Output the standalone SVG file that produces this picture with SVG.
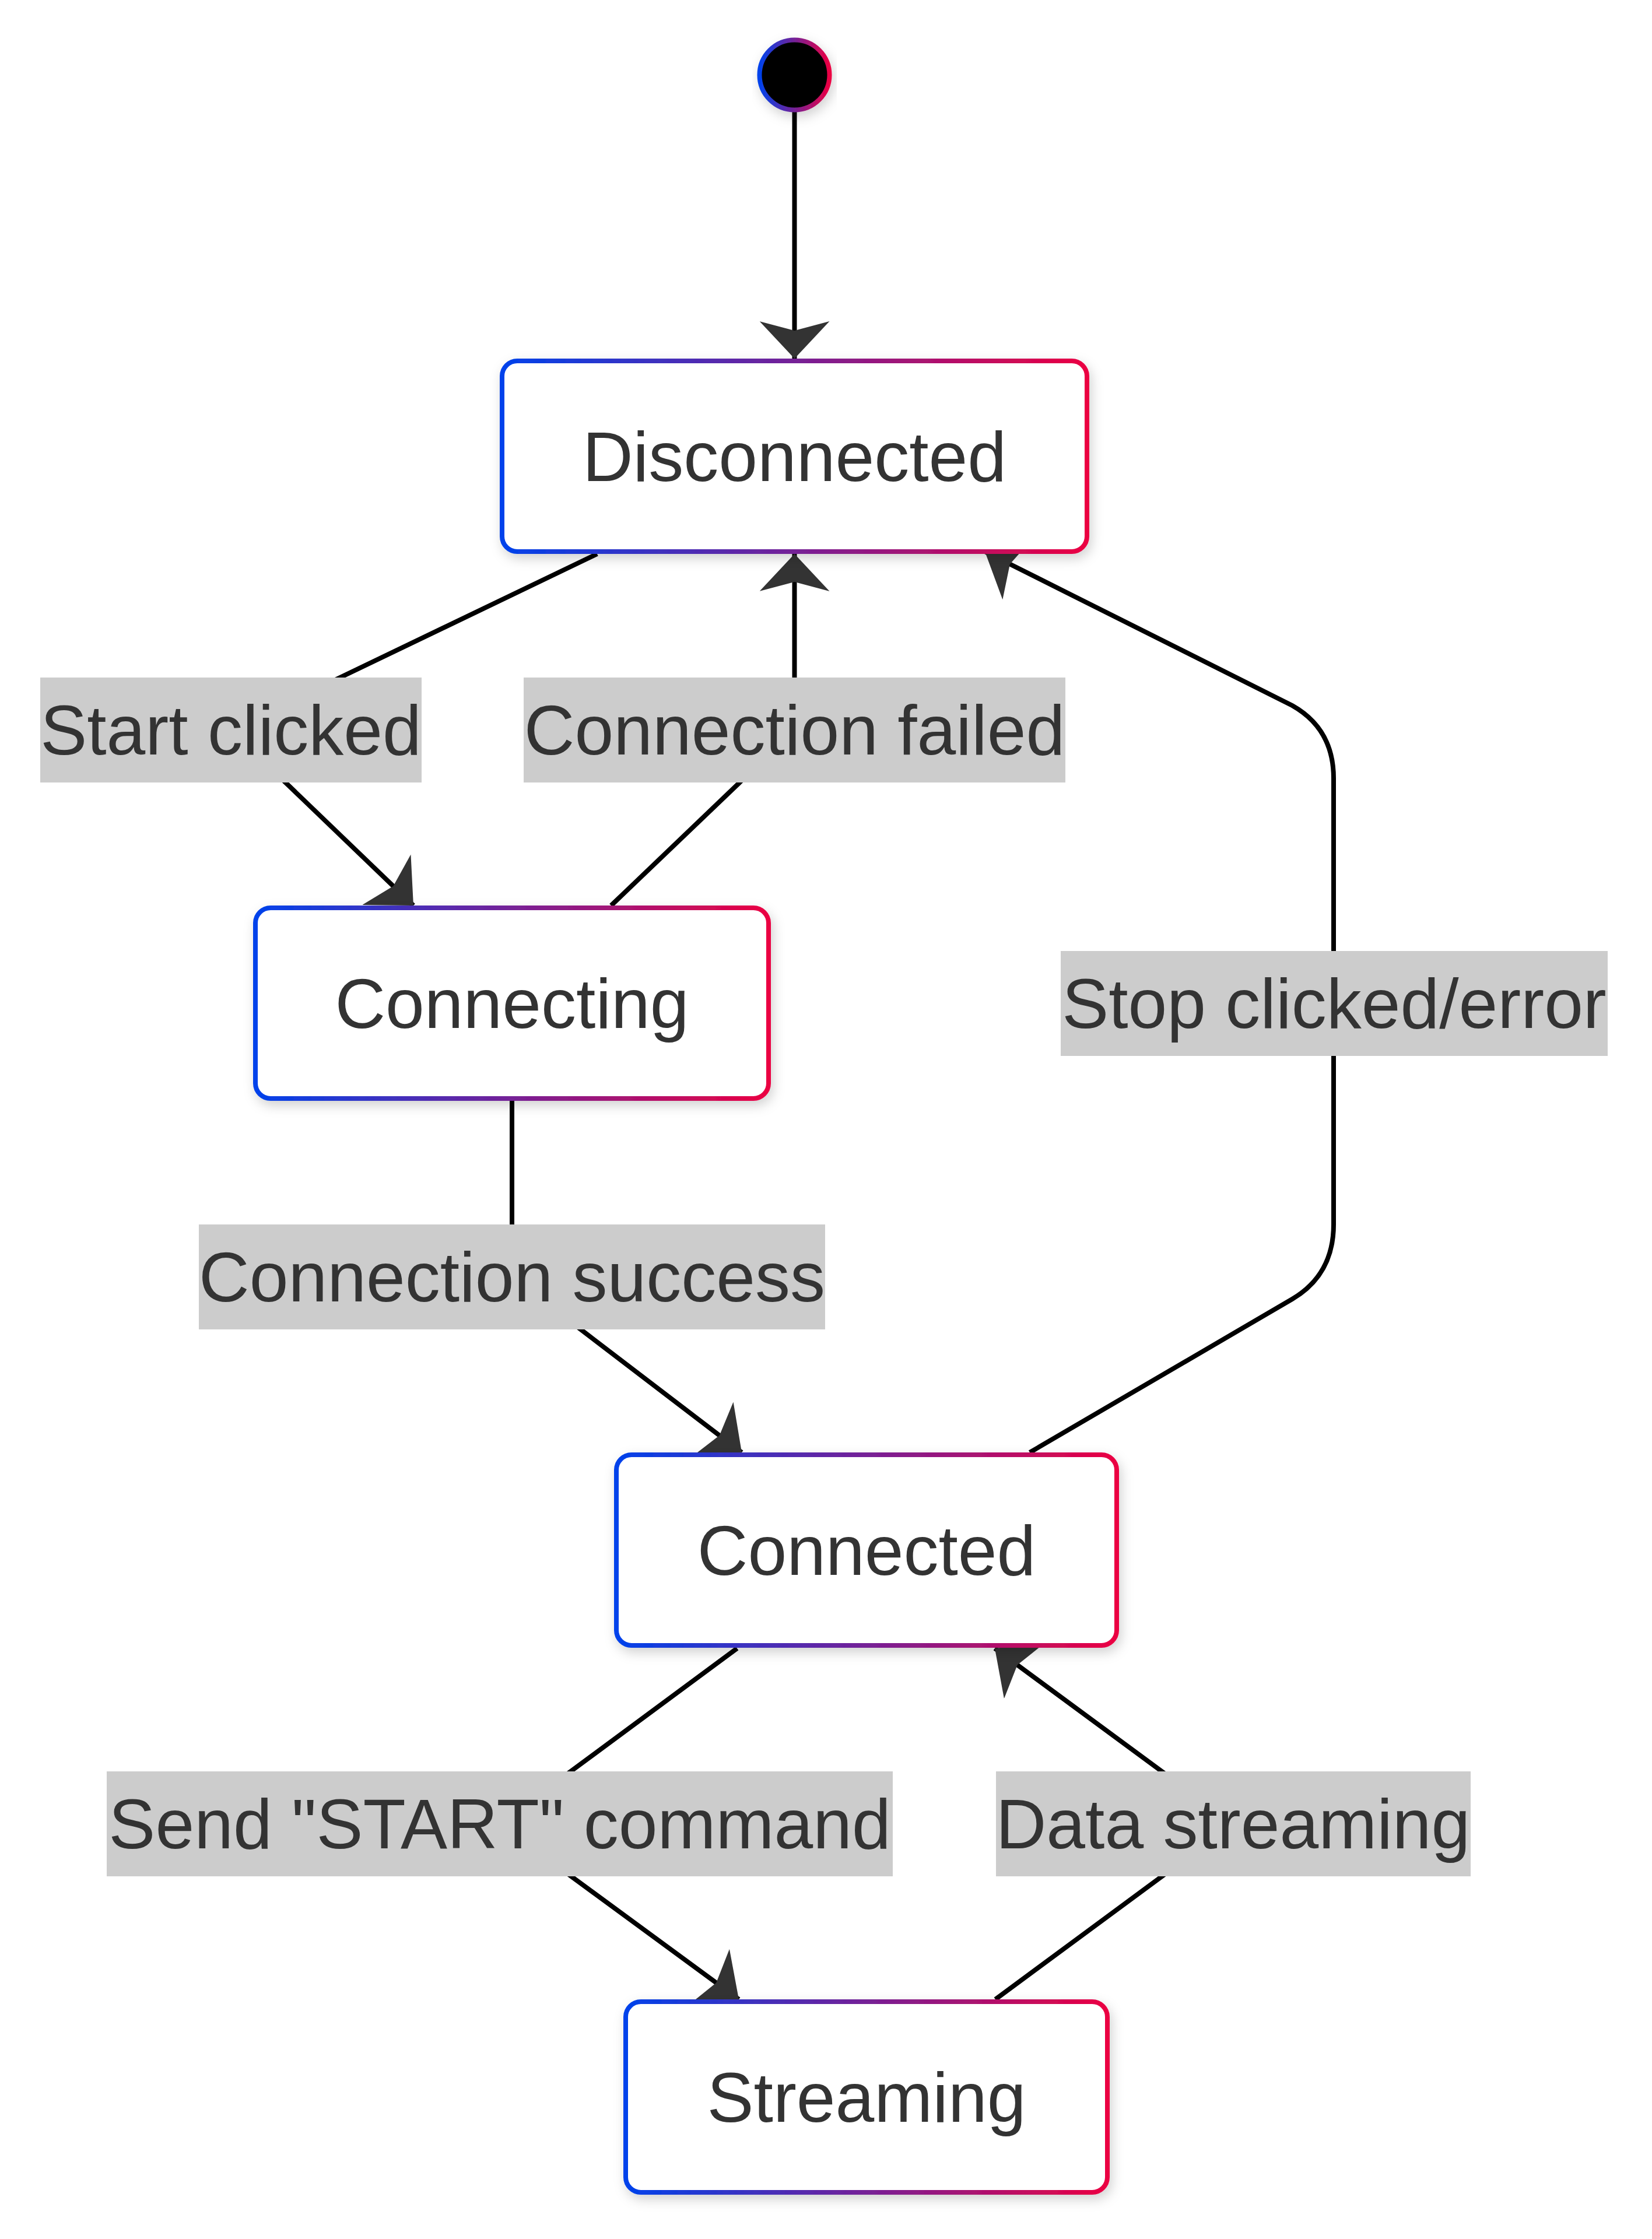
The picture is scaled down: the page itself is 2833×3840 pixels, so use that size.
<svg xmlns="http://www.w3.org/2000/svg" width="2833" height="3840" viewBox="0 0 2833 3840">
<style>
.edge{fill:none;stroke:#000;stroke-width:8;marker-end:url(#barb)}
.node{fill:#fff;stroke:url(#grad);stroke-width:8;filter:url(#shadow)}
.ntext{font-family:"Liberation Sans",Arial,sans-serif;font-size:120px;fill:#333;text-anchor:middle}
.lbg{fill:#cccccc}
.ltext{font-family:"Liberation Sans",Arial,sans-serif;font-size:120px;fill:#333;text-anchor:middle}
</style>
<defs>
<linearGradient id="grad" x1="0" y1="0" x2="1" y2="0">
<stop offset="0" stop-color="#0042eb"/>
<stop offset="1" stop-color="#eb0042"/>
</linearGradient>
<filter id="shadow" x="-10%" y="-20%" width="120%" height="145%">
<feDropShadow dx="4" dy="8" stdDeviation="10" flood-color="#000" flood-opacity="0.18"/>
</filter>
<marker id="barb" markerUnits="userSpaceOnUse" viewBox="0 0 64 120" refX="64" refY="60" markerWidth="64" markerHeight="120" orient="auto">
<path d="M64,60 L0,120 L16,60 L0,0 Z" fill="#333"/>
</marker>
</defs>
<rect x="0" y="0" width="2833" height="3840" fill="#fff"/>
<g id="connectors">
<path class="edge" d="M1362.5,192 L1362.5,615"/>
<path class="edge" d="M1024,950 L396,1252 L709,1553"/>
<path class="edge" d="M1048,1553 L1362.5,1252 L1362.5,950"/>
<path class="edge" d="M878,1888 L878,2190 L1272,2491"/>
<path class="edge" d="M1766,2491 L2216,2228 Q2287,2186 2287,2100 L2287,1335 Q2287,1250 2216,1210 L1689,946"/>
<path class="edge" d="M1264,2827 L857,3128 L1267,3429"/>
<path class="edge" d="M1707,3429 L2114.5,3128 L1706,2827"/>
</g>
<g id="edge-labels">
<g id="label-start-clicked"><rect class="lbg" x="69" y="1162" width="654" height="180"/><text class="ltext" x="396" y="1294">Start clicked</text></g>
<g id="label-connection-failed"><rect class="lbg" x="898" y="1162" width="929" height="180"/><text class="ltext" x="1362.5" y="1294">Connection failed</text></g>
<g id="label-stop-clicked"><rect class="lbg" x="1819" y="1631" width="938" height="180"/><text class="ltext" x="2288" y="1763">Stop clicked/error</text></g>
<g id="label-connection-success"><rect class="lbg" x="341" y="2100" width="1074" height="180"/><text class="ltext" x="878" y="2232">Connection success</text></g>
<g id="label-send-start"><rect class="lbg" x="183" y="3038" width="1348" height="180"/><text class="ltext" x="857" y="3170">Send "START" command</text></g>
<g id="label-data-streaming"><rect class="lbg" x="1708" y="3038" width="814" height="180"/><text class="ltext" x="2114.5" y="3170">Data streaming</text></g>
</g>
<g id="start"><circle cx="1362.5" cy="128.5" r="60" fill="#000" stroke="url(#grad)" stroke-width="8" filter="url(#shadow)"/></g>
<g id="Disconnected"><rect class="node" x="861" y="619" width="1003" height="327" rx="26"/><text class="ntext" x="1362.5" y="825">Disconnected</text></g>
<g id="Connecting"><rect class="node" x="438" y="1557" width="880" height="327" rx="26"/><text class="ntext" x="878" y="1763">Connecting</text></g>
<g id="Connected"><rect class="node" x="1057" y="2495" width="858" height="327" rx="26"/><text class="ntext" x="1486" y="2701">Connected</text></g>
<g id="Streaming"><rect class="node" x="1073" y="3433" width="826" height="327" rx="26"/><text class="ntext" x="1486" y="3639">Streaming</text></g>
</svg>
